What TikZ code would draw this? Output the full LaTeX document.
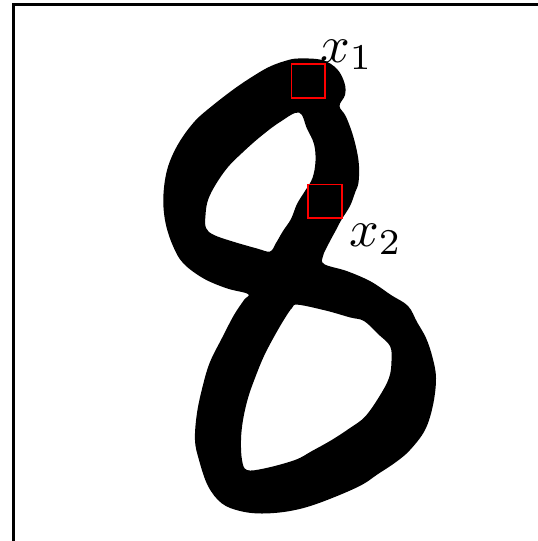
\documentclass[tikz,border=0pt]{standalone}
\usepackage{graphicx}
\begin{document}
\begin{tikzpicture}[x=1pt,y=-1pt,
  frame/.style={draw=black,line width=3pt},
  probe/.style={draw=red,line width=1.8pt},
  lab/.style={inner sep=0pt,anchor=base west}]
\useasboundingbox (0,0) rectangle (538,541);
\clip (0,0) rectangle (538,541);
\fill[white] (0,0) rectangle (538,541);
\draw[frame] (13.5,4.5) rectangle (600,600);
% the digit 8
\fill[black,even odd rule]
 plot[smooth cycle,tension=0.6] coordinates {
 (298,58.5) (322,60) (337,69) (344.5,83) (345,95) (339.5,106) (346,116.7)
 (353.5,137.3) (358.6,161.3) (358.6,181.9) (355.2,192.2) (350,206) (341.5,219.6)
 (336,230) (329,243) (323,256) (324.3,264.2)
 (346.6,271) (370.6,281.4) (391,295) (408,306) (417,322) (426,338)
 (432.4,357) (436,378) (433,405) (425,430) (410,450) (396,462) (378,474)
 (358.3,486.7) (318.3,503.3) (290,511) (262,513.5) (240,511) (221.7,503.3)
 (208,486) (199,460) (195,440) (197,413) (203,385) (210,362) (222,338)
 (234,315) (244,300) (248,294)
 (226.7,288.3) (203.3,278.3) (183.3,263.3) (173.3,246.7) (166,225) (163.3,203)
 (165,180) (170,161) (180,141) (195,121) (212,106) (235,88.3) (255,75)
 (270,66.5) (285,61)}
 plot[smooth cycle,tension=0.6] coordinates {
 (299,112.5) (307,128.7) (314,144) (315.5,161) (312.5,178) (305,191)
 (297,204) (291,219) (283,231) (276,243) (270,251.5) (257,248.5)
 (233.3,241.7) (214,235) (206,228) (205.5,215) (208,200) (216,184)
 (228,167) (242,153) (260,137) (280,122)}
 plot[smooth cycle,tension=0.6] coordinates {
 (298,304.7) (326,310.6) (350,317.4) (364,321) (378,334) (390,346)
 (391.5,361) (389,378) (379,397) (365,416.7) (350,428) (331.7,440)
 (312,451) (295,460) (265,468.3) (247,470) (242,460) (241,440)
 (243,420) (248,398) (255,378) (264,356) (275,335) (285,318) (292,308)};
% probes
\node[probe,minimum width=33.6pt,minimum height=34pt,inner sep=0pt] (p1) at (308.2,80.8) {};
\node[probe,minimum width=34pt,minimum height=33.7pt,inner sep=0pt] (p2) at (324.8,201.4) {};
% labels
\node[lab] (l1) at (320,62) {\scalebox{5.2}{$x_1$}};
\node[lab] (l2) at (349,246.5) {\scalebox{5.2}{$x_2$}};
\end{tikzpicture}
\end{document}
